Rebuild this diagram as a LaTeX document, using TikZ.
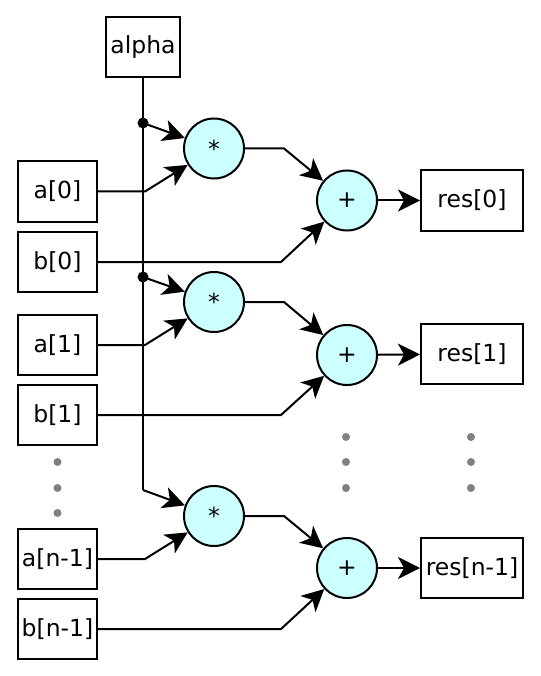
\documentclass[tikz,border=0pt]{standalone}
\usepackage{fontspec}
\setmainfont{DejaVu Sans}
\usetikzlibrary{arrows.meta}
\begin{document}
\begin{tikzpicture}[x=1pt,y=-1pt,
  every node/.style={font=\fontsize{23.5}{28}\selectfont},
  box/.style={draw,line width=2pt,inner sep=0pt,minimum height=60pt},
  op/.style={draw,circle,line width=2pt,inner sep=0pt,minimum size=60pt},
  conn/.style={line width=2pt,-{Stealth[length=22pt,width=22pt,inset=6pt]}},
  wire/.style={line width=2pt},
  gdot/.style={circle,fill=gray,inner sep=0pt,minimum size=8pt},
  bdot/.style={circle,fill=black,inner sep=0pt,minimum size=11pt}]
\useasboundingbox (0,0) rectangle (540,676);
\definecolor{cyanfill}{HTML}{CCFFFF}
\tikzset{op/.append style={fill=cyanfill}}
% nodes
\node[box,minimum width=74pt] (alpha) at (143,47) {alpha};
\node[box,minimum width=79pt] (a0) at (57.5,191.5) {a[0]};
\node[box,minimum width=79pt] (b0) at (57.5,262) {b[0]};
\node[box,minimum width=79pt] (a1) at (57.5,345) {a[1]};
\node[box,minimum width=79pt] (b1) at (57.5,415) {b[1]};
\node[box,minimum width=79pt] (an) at (57.5,559) {a[n-1]};
\node[box,minimum width=79pt] (bn) at (57.5,629) {b[n-1]};
\node[op] (m0) at (214,148.5) {*};
\node[op] (m1) at (214,302) {*};
\node[op] (mn) at (214,516) {*};
\node[op] (p0) at (347,200.5) {+};
\node[op] (p1) at (347,355) {+};
\node[op] (pn) at (347,568) {+};
\node[box,minimum width=102pt] (r0) at (472,200.5) {res[0]};
\node[box,minimum width=102pt] (r1) at (472,354) {res[1]};
\node[box,minimum width=102pt] (rn) at (472,568) {res[n-1]};
% ellipsis dots
\foreach \y in {462,488,513} \node[gdot] at (57.5,\y) {};
\foreach \y in {437,462,488} {\node[gdot] at (346,\y) {}; \node[gdot] at (471,\y) {};}
% alpha bus
\coordinate (j0) at (143,123);
\coordinate (j1) at (143,277);
\coordinate (jn) at (143,490);
\draw[wire] (alpha.south) -- (jn);
\node[bdot] (d0) at (j0) {};
\node[bdot] (d1) at (j1) {};
\draw[conn] (j0) -- (m0);
\draw[conn] (j1) -- (m1);
\draw[conn] (jn) -- (mn);
% a inputs
\draw[conn] (a0.east) -- (145,191.5) -- (m0);
\draw[conn] (a1.east) -- (145,345) -- (m1);
\draw[conn] (an.east) -- (145,559) -- (mn);
% b inputs
\draw[conn] (b0.east) -- (281,262) -- (p0);
\draw[conn] (b1.east) -- (281,415) -- (p1);
\draw[conn] (bn.east) -- (281,629) -- (pn);
% products
\draw[conn] (m0.east) -- (284,148.5) -- (p0);
\draw[conn] (m1.east) -- (284,302) -- (p1);
\draw[conn] (mn.east) -- (284,516) -- (pn);
% results
\draw[conn] (p0) -- (r0);
\draw[conn] (p1) -- (r1);
\draw[conn] (pn) -- (rn);
\end{tikzpicture}
\end{document}
